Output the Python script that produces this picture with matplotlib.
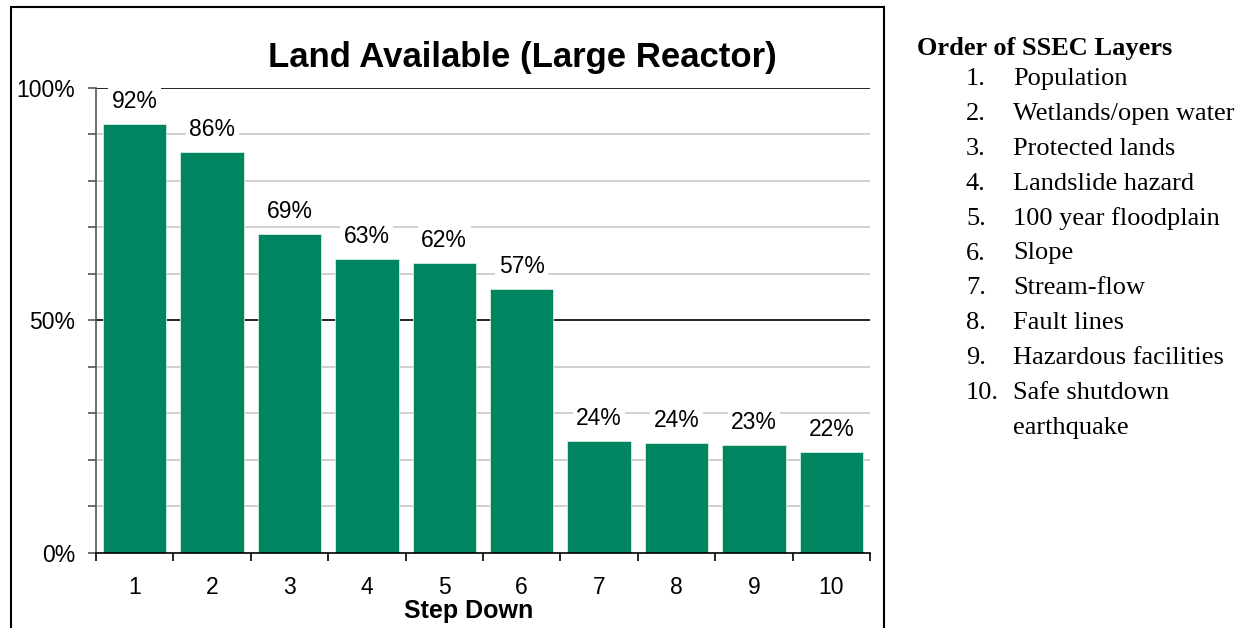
import matplotlib
matplotlib.use("Agg")
import matplotlib.pyplot as plt
from matplotlib.patches import Rectangle

# ------------------------------------------
# Data
# ------------------------------------------
steps = [1, 2, 3, 4, 5, 6, 7, 8, 9, 10]
land_pct = [92.2, 86.2, 68.6, 63.2, 62.3, 56.7, 24.1, 23.7, 23.1, 21.6]
pct_labels = ["92%", "86%", "69%", "63%", "62%", "57%", "24%", "24%", "23%", "22%"]
layers = ["Population", "Wetlands/open water", "Protected lands",
          "Landslide hazard", "100 year floodplain", "Slope", "Stream-flow",
          "Fault lines", "Hazardous facilities", "Safe shutdown\nearthquake"]

green = "#008560"
plt.rcParams['font.family'] = ['Liberation Sans', 'DejaVu Sans']

fig = plt.figure(figsize=(12.48, 6.28), dpi=100)

# outer frame around the chart (bottom edge runs off the image)
frame = Rectangle((11 / 1248, -0.05), (884 - 11) / 1248, 1 - 7 / 628 + 0.05,
                  transform=fig.transFigure, fill=False, edgecolor="black",
                  linewidth=1.5, clip_on=False)
fig.patches.append(frame)

ax = fig.add_axes([96 / 1248, 1 - 552.7 / 628, (870 - 96) / 1248, (552.7 - 88) / 628])

# ------------------------------------------
# Gridlines
# ------------------------------------------
for y in range(10, 100, 10):
    if y == 50:
        continue
    ax.axhline(y, color="#c8c8c8", linewidth=1.2, zorder=0)
ax.axhline(50, color="black", linewidth=1.2, zorder=0)
ax.axhline(100, color="black", linewidth=1.2, zorder=0)

# ------------------------------------------
# Bars + labels
# ------------------------------------------
bars = ax.bar(steps, land_pct, width=0.82, color=green, edgecolor="#d8ece2",
              linewidth=0.6, zorder=2)
for b, lab in zip(bars, pct_labels):
    ax.annotate(lab, (b.get_x() + b.get_width() / 2, b.get_height()),
                xytext=(0, 11.5), textcoords="offset points",
                ha="center", va="baseline", fontsize=16.5, zorder=3,
                bbox=dict(boxstyle="square,pad=0.15", fc="white", ec="none"))

ax.set_xlim(0.5, 10.5)
ax.set_ylim(0, 100)

# x axis: ticks at category boundaries, labels at centres
ax.set_xticks([i + 0.5 for i in range(0, 11)])
ax.set_xticklabels([])
ax.set_xticks(steps, minor=True)
ax.set_xticklabels([str(s) for s in steps], minor=True, fontsize=16.5)
ax.tick_params(axis="x", which="major", direction="out", length=6, width=1.2, color="black")
ax.tick_params(axis="x", which="minor", length=0, pad=17)

# y axis
ax.set_yticks([0, 50, 100])
ax.set_yticklabels(["0%", "50%", "100%"], fontsize=16.5)
ax.set_yticks(range(10, 100, 10), minor=True)
ax.tick_params(axis="y", which="both", direction="out", length=6, width=1.2,
               color="#555555", pad=9)

for side in ["top", "right"]:
    ax.spines[side].set_visible(False)
ax.spines["left"].set_color("#555555")
ax.spines["left"].set_linewidth(1.2)
ax.spines["bottom"].set_linewidth(1.2)

# ------------------------------------------
# Titles
# ------------------------------------------
fig.text(522 / 1248, 1 - 58 / 628, "Land Available (Large Reactor)",
         ha="center", va="center", fontsize=25, fontweight="bold")
fig.text(469 / 1248, 1 - 611 / 628, "Step Down",
         ha="center", va="center", fontsize=18, fontweight="bold")

# ------------------------------------------
# Side list
# ------------------------------------------
serif = ['Liberation Serif', 'DejaVu Serif']
fig.text(917 / 1248, 1 - 48 / 628, "Order of SSEC Layers", family=serif,
         ha="left", va="center", fontsize=19, fontweight="bold")
for i, name in enumerate(layers):
    yc = 79 + i * 34.9
    fig.text(966 / 1248, 1 - yc / 628, f"{i + 1}.", family=serif,
             ha="left", va="center", fontsize=19)
    parts = name.split("\n")
    for j, part in enumerate(parts):
        fig.text(1013 / 1248, 1 - (yc + j * 34.9) / 628, part, family=serif,
                 ha="left", va="center", fontsize=19)

fig.savefig("out.png", dpi=100)
